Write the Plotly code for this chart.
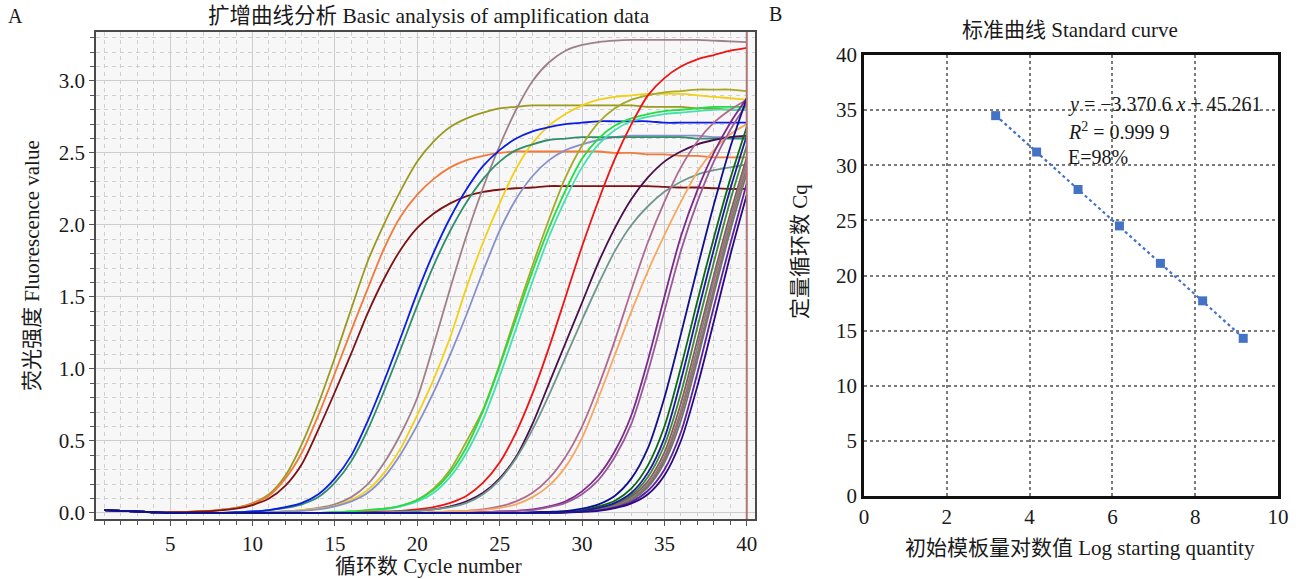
import plotly.graph_objects as go
import numpy as np

# ---------------- data ----------------
cycles = list(range(1, 41))

olive_a = [0.02, 0.015, 0.01, 0.005, 0.005, 0.008, 0.012, 0.022, 0.036, 0.068,
           0.13, 0.26, 0.48, 0.76, 1.08, 1.42, 1.75, 2.01, 2.24, 2.44,
           2.58, 2.68, 2.74, 2.78, 2.81, 2.82, 2.83, 2.83, 2.83, 2.83,
           2.83, 2.83, 2.83, 2.82, 2.82, 2.82, 2.81, 2.81, 2.80, 2.80]
orange_b = [0.02, 0.015, 0.01, 0.005, 0.005, 0.007, 0.012, 0.02, 0.035, 0.065,
            0.12, 0.24, 0.42, 0.68, 0.97, 1.27, 1.56, 1.84, 2.06, 2.21,
            2.32, 2.40, 2.45, 2.48, 2.50, 2.51, 2.51, 2.51, 2.51, 2.51,
            2.51, 2.50, 2.50, 2.49, 2.49, 2.48, 2.48, 2.47, 2.47, 2.47]
maroon_c = [0.02, 0.015, 0.01, 0.005, 0.005, 0.006, 0.01, 0.018, 0.03, 0.055,
            0.10, 0.19, 0.34, 0.58, 0.84, 1.11, 1.39, 1.63, 1.83, 1.98,
            2.08, 2.15, 2.20, 2.23, 2.245, 2.255, 2.26, 2.27, 2.27, 2.27,
            2.27, 2.27, 2.27, 2.27, 2.265, 2.26, 2.26, 2.255, 2.25, 2.25]
blue_d = [0.02, 0.015, 0.01, 0.005, 0.0, 0.0, 0.0, 0.0, 0.005, 0.01,
          0.02, 0.04, 0.07, 0.13, 0.24, 0.40, 0.64, 0.92, 1.22, 1.53,
          1.81, 2.05, 2.25, 2.41, 2.52, 2.60, 2.65, 2.68, 2.70, 2.71,
          2.72, 2.72, 2.72, 2.72, 2.71, 2.71, 2.71, 2.71, 2.71, 2.71]
teal_e = [0.02, 0.015, 0.01, 0.005, 0.0, 0.0, 0.0, 0.0, 0.005, 0.01,
          0.02, 0.035, 0.06, 0.11, 0.21, 0.36, 0.58, 0.85, 1.14, 1.44,
          1.72, 1.96, 2.16, 2.32, 2.44, 2.52, 2.56, 2.59, 2.60, 2.61,
          2.61, 2.61, 2.61, 2.61, 2.61, 2.61, 2.60, 2.60, 2.60, 2.60]
mauve_f = [0.02, 0.015, 0.01, 0.005, 0.0, 0.0, 0.0, 0.0, 0.0, 0.0,
           0.005, 0.01, 0.02, 0.035, 0.06, 0.11, 0.20, 0.35, 0.55, 0.80,
           1.17, 1.56, 1.93, 2.26, 2.55, 2.80, 3.00, 3.13, 3.21, 3.25,
           3.27, 3.28, 3.285, 3.285, 3.285, 3.285, 3.285, 3.28, 3.275, 3.27]
yellow_g = [0.02, 0.015, 0.01, 0.005, 0.0, 0.0, 0.0, 0.0, 0.0, 0.0,
            0.005, 0.01, 0.02, 0.03, 0.05, 0.09, 0.16, 0.28, 0.45, 0.68,
            0.93, 1.22, 1.57, 1.88, 2.15, 2.39, 2.57, 2.69, 2.77, 2.83,
            2.87, 2.89, 2.90, 2.91, 2.91, 2.91, 2.90, 2.89, 2.88, 2.87]
lavender_h = [0.02, 0.015, 0.01, 0.005, 0.0, 0.0, 0.0, 0.0, 0.0, 0.0,
              0.005, 0.01, 0.015, 0.025, 0.045, 0.08, 0.14, 0.25, 0.41, 0.61,
              0.84, 1.10, 1.38, 1.68, 1.96, 2.18, 2.34, 2.45, 2.52, 2.56,
              2.59, 2.61, 2.62, 2.62, 2.62, 2.62, 2.62, 2.61, 2.61, 2.61]
green_i = [0.02, 0.015, 0.01, 0.005, 0.0, 0.0, 0.0, 0.0, 0.0, 0.0,
           0.0, 0.0, 0.0, 0.0, 0.005, 0.01, 0.02, 0.03, 0.05, 0.09,
           0.16, 0.28, 0.46, 0.71, 1.02, 1.35, 1.68, 1.98, 2.24, 2.46,
           2.60, 2.69, 2.74, 2.77, 2.79, 2.80, 2.81, 2.82, 2.82, 2.82]
aqua_i2 = [0.02, 0.015, 0.01, 0.005, 0.0, 0.0, 0.0, 0.0, 0.0, 0.0,
           0.0, 0.0, 0.0, 0.0, 0.005, 0.01, 0.015, 0.025, 0.045, 0.08,
           0.14, 0.25, 0.42, 0.65, 0.95, 1.28, 1.61, 1.92, 2.18, 2.40,
           2.56, 2.66, 2.72, 2.75, 2.77, 2.78, 2.79, 2.80, 2.80, 2.80]
olivey_j = [0.02, 0.015, 0.01, 0.005, 0.0, 0.0, 0.0, 0.0, 0.0, 0.0,
            0.0, 0.0, 0.0, 0.0, 0.005, 0.01, 0.02, 0.03, 0.05, 0.09,
            0.17, 0.30, 0.50, 0.72, 1.03, 1.38, 1.72, 2.04, 2.33, 2.55,
            2.71, 2.81, 2.87, 2.90, 2.92, 2.93, 2.94, 2.94, 2.94, 2.93]
red_k = [0.02, 0.015, 0.01, 0.005, 0.0, 0.0, 0.0, 0.0, 0.0, 0.0,
         0.0, 0.0, 0.0, 0.0, 0.0, 0.0, 0.005, 0.01, 0.015, 0.025,
         0.04, 0.07, 0.12, 0.21, 0.35, 0.56, 0.83, 1.15, 1.50, 1.85,
         2.17, 2.46, 2.70, 2.90, 3.02, 3.10, 3.15, 3.18, 3.21, 3.23]
purple_l = [0.02, 0.015, 0.01, 0.005, 0.0, 0.0, 0.0, 0.0, 0.0, 0.0,
            0.0, 0.0, 0.0, 0.0, 0.0, 0.0, 0.0, 0.005, 0.01, 0.015,
            0.025, 0.045, 0.08, 0.14, 0.24, 0.39, 0.62, 0.90, 1.18, 1.46,
            1.74, 1.98, 2.18, 2.33, 2.44, 2.51, 2.56, 2.59, 2.61, 2.62]
grayteal_m = [0.02, 0.015, 0.01, 0.005, 0.0, 0.0, 0.0, 0.0, 0.0, 0.0,
              0.0, 0.0, 0.0, 0.0, 0.0, 0.0, 0.0, 0.005, 0.01, 0.015,
              0.025, 0.04, 0.07, 0.13, 0.23, 0.38, 0.58, 0.82, 1.08, 1.34,
              1.59, 1.82, 2.00, 2.13, 2.23, 2.30, 2.35, 2.38, 2.40, 2.42]
rosy_n = [0.02, 0.015, 0.01, 0.005, 0.0, 0.0, 0.0, 0.0, 0.0, 0.0,
          0.0, 0.0, 0.0, 0.0, 0.0, 0.0, 0.0, 0.0, 0.0, 0.0,
          0.005, 0.01, 0.015, 0.025, 0.045, 0.08, 0.14, 0.24, 0.39, 0.60,
          0.88, 1.20, 1.55, 1.88, 2.16, 2.40, 2.58, 2.71, 2.80, 2.87]
sandy_o = [0.02, 0.015, 0.01, 0.005, 0.0, 0.0, 0.0, 0.0, 0.0, 0.0,
           0.0, 0.0, 0.0, 0.0, 0.0, 0.0, 0.0, 0.0, 0.0, 0.0,
           0.005, 0.01, 0.015, 0.02, 0.035, 0.06, 0.11, 0.19, 0.32, 0.52,
           0.80, 1.10, 1.40, 1.68, 1.93, 2.16, 2.37, 2.52, 2.63, 2.70]
purple_p = [0.02, 0.015, 0.01, 0.005, 0.0, 0.0, 0.0, 0.0, 0.0, 0.0,
            0.0, 0.0, 0.0, 0.0, 0.0, 0.0, 0.0, 0.0, 0.0, 0.0,
            0.0, 0.0, 0.0, 0.005, 0.01, 0.015, 0.025, 0.045, 0.08, 0.15,
            0.26, 0.43, 0.68, 1.06, 1.50, 1.92, 2.24, 2.50, 2.71, 2.88]
orchid_p2 = [0.02, 0.015, 0.01, 0.005, 0.0, 0.0, 0.0, 0.0, 0.0, 0.0,
             0.0, 0.0, 0.0, 0.0, 0.0, 0.0, 0.0, 0.0, 0.0, 0.0,
             0.0, 0.0, 0.0, 0.005, 0.01, 0.015, 0.02, 0.04, 0.07, 0.13,
             0.23, 0.39, 0.62, 0.98, 1.40, 1.82, 2.16, 2.44, 2.66, 2.84]
late_1 = [0.02, 0.015, 0.01, 0.005, 0.0, 0.0, 0.0, 0.0, 0.0, 0.0,
          0.0, 0.0, 0.0, 0.0, 0.0, 0.0, 0.0, 0.0, 0.0, 0.0,
          0.0, 0.0, 0.0, 0.0, 0.0, 0.0, 0.005, 0.008, 0.013, 0.03,
          0.06, 0.12, 0.24, 0.45, 0.80, 1.24, 1.70, 2.14, 2.54, 2.88]
late_2 = [0.02, 0.015, 0.01, 0.005, 0.0, 0.0, 0.0, 0.0, 0.0, 0.0,
          0.0, 0.0, 0.0, 0.0, 0.0, 0.0, 0.0, 0.0, 0.0, 0.0,
          0.0, 0.0, 0.0, 0.0, 0.0, 0.0, 0.0, 0.005, 0.013, 0.02,
          0.045, 0.085, 0.17, 0.33, 0.60, 1.01, 1.47, 1.91, 2.32, 2.68]
late_3 = [0.02, 0.015, 0.01, 0.005, 0.0, 0.0, 0.0, 0.0, 0.0, 0.0,
          0.0, 0.0, 0.0, 0.0, 0.0, 0.0, 0.0, 0.0, 0.0, 0.0,
          0.0, 0.0, 0.0, 0.0, 0.0, 0.0, 0.0, 0.0, 0.005, 0.014,
          0.03, 0.063, 0.125, 0.25, 0.47, 0.83, 1.29, 1.74, 2.17, 2.55]
late_4 = [0.02, 0.015, 0.01, 0.005, 0.0, 0.0, 0.0, 0.0, 0.0, 0.0,
          0.0, 0.0, 0.0, 0.0, 0.0, 0.0, 0.0, 0.0, 0.0, 0.0,
          0.0, 0.0, 0.0, 0.0, 0.0, 0.0, 0.0, 0.0, 0.005, 0.012,
          0.027, 0.056, 0.112, 0.22, 0.42, 0.76, 1.20, 1.65, 2.08, 2.47]
late_5 = [0.02, 0.015, 0.01, 0.005, 0.0, 0.0, 0.0, 0.0, 0.0, 0.0,
          0.0, 0.0, 0.0, 0.0, 0.0, 0.0, 0.0, 0.0, 0.0, 0.0,
          0.0, 0.0, 0.0, 0.0, 0.0, 0.0, 0.0, 0.0, 0.005, 0.012,
          0.025, 0.05, 0.10, 0.20, 0.39, 0.71, 1.15, 1.61, 2.04, 2.44]
late_6 = [0.02, 0.015, 0.01, 0.005, 0.0, 0.0, 0.0, 0.0, 0.0, 0.0,
          0.0, 0.0, 0.0, 0.0, 0.0, 0.0, 0.0, 0.0, 0.0, 0.0,
          0.0, 0.0, 0.0, 0.0, 0.0, 0.0, 0.0, 0.0, 0.005, 0.011,
          0.023, 0.047, 0.093, 0.19, 0.37, 0.68, 1.10, 1.56, 2.00, 2.40]
late_7 = [0.02, 0.015, 0.01, 0.005, 0.0, 0.0, 0.0, 0.0, 0.0, 0.0,
          0.0, 0.0, 0.0, 0.0, 0.0, 0.0, 0.0, 0.0, 0.0, 0.0,
          0.0, 0.0, 0.0, 0.0, 0.0, 0.0, 0.0, 0.0, 0.005, 0.01,
          0.022, 0.045, 0.09, 0.18, 0.35, 0.64, 1.06, 1.52, 1.96, 2.36]
late_8 = [0.02, 0.015, 0.01, 0.005, 0.0, 0.0, 0.0, 0.0, 0.0, 0.0,
          0.0, 0.0, 0.0, 0.0, 0.0, 0.0, 0.0, 0.0, 0.0, 0.0,
          0.0, 0.0, 0.0, 0.0, 0.0, 0.0, 0.0, 0.0, 0.004, 0.009,
          0.018, 0.038, 0.077, 0.154, 0.30, 0.56, 0.97, 1.43, 1.87, 2.29]
late_9 = [0.02, 0.015, 0.01, 0.005, 0.0, 0.0, 0.0, 0.0, 0.0, 0.0,
          0.0, 0.0, 0.0, 0.0, 0.0, 0.0, 0.0, 0.0, 0.0, 0.0,
          0.0, 0.0, 0.0, 0.0, 0.0, 0.0, 0.0, 0.0, 0.004, 0.008,
          0.015, 0.033, 0.066, 0.13, 0.26, 0.50, 0.88, 1.33, 1.79, 2.21]
late_10 = [0.02, 0.015, 0.01, 0.005, 0.0, 0.0, 0.0, 0.0, 0.0, 0.0,
           0.0, 0.0, 0.0, 0.0, 0.0, 0.0, 0.0, 0.0, 0.0, 0.0,
           0.0, 0.0, 0.0, 0.0, 0.0, 0.0, 0.0, 0.0, 0.006, 0.015,
           0.035, 0.07, 0.14, 0.28, 0.52, 0.92, 1.38, 1.83, 2.25, 2.62]

cursor_cycle = 40

# standard curve
log_quantity = [3.18, 4.17, 5.17, 6.17, 7.16, 8.18, 9.16]
cq_values = [34.5, 31.2, 27.8, 24.5, 21.1, 17.7, 14.3]

left_xticks = [5, 10, 15, 20, 25, 30, 35, 40]
left_yticks = [0.0, 0.5, 1.0, 1.5, 2.0, 2.5, 3.0]
right_xticks = [0, 2, 4, 6, 8, 10]
right_yticks = [0, 5, 10, 15, 20, 25, 30, 35, 40]

# ---------------- styles ----------------
series = [
    (olive_a, "#9a9a1e"), (orange_b, "#f27a3a"), (maroon_c, "#7e1212"),
    (mauve_f, "#9e8088"), (yellow_g, "#f2d01a"), (lavender_h, "#8890cc"),
    (teal_e, "#2f8f6c"), (blue_d, "#0b1de0"),
    (olivey_j, "#a8a826"), (aqua_i2, "#46e0b0"), (green_i, "#22dd44"),
    (red_k, "#ee1414"), (purple_l, "#4a0f4a"), (grayteal_m, "#6f978e"),
    (rosy_n, "#b06a90"), (sandy_o, "#f6a862"),
    (purple_p, "#7a2a8a"), (orchid_p2, "#9a5a9a"),
    (late_2, "#0a6a14"), (late_3, "#3a8a3a"), (late_4, "#8a5a5a"),
    (late_5, "#808080"), (late_6, "#a06a6a"), (late_7, "#6a7a6a"),
    (late_8, "#6020a0"), (late_9, "#2a0a80"), (late_10, "#1a1a9a"),
    (late_1, "#10108a"),
]

W, H = 1308, 579
FONT = "Liberation Serif, 'Noto Sans CJK SC', serif"
TXT = "#1a1a1a"


def fx(p):
    return p / W


def fy(p):
    return 1 - p / H


fig = go.Figure()

for vals, col in series:
    fig.add_trace(go.Scatter(
        x=cycles, y=vals, mode="lines", xaxis="x", yaxis="y",
        line=dict(color=col, width=1.8, shape="spline", smoothing=0.8),
        hoverinfo="skip"))

# standard curve: fitted trend line + points
slope, intercept = np.polyfit(log_quantity, cq_values, 1)
trend_x = [min(log_quantity), max(log_quantity)]
trend_y = [slope * v + intercept for v in trend_x]
fig.add_trace(go.Scatter(
    x=trend_x, y=trend_y, mode="lines", xaxis="x2", yaxis="y2",
    line=dict(color="#4472c4", width=2.2, dash="dot"), hoverinfo="skip"))
fig.add_trace(go.Scatter(
    x=log_quantity, y=cq_values, mode="markers", xaxis="x2", yaxis="y2",
    marker=dict(symbol="square", size=9, color="#4472c4"), hoverinfo="skip"))

fig.update_layout(
    width=W, height=H, margin=dict(l=0, r=0, t=0, b=0, autoexpand=False),
    paper_bgcolor="white", plot_bgcolor="#f7f7f7", showlegend=False,
    font=dict(family=FONT, size=20, color=TXT),
    xaxis=dict(
        domain=[fx(96), fx(755)], range=[0.5, 40.5], tickvals=left_xticks,
        showgrid=True, gridcolor="#cdcdcd", gridwidth=1, zeroline=False,
        ticks="outside", ticklen=5, tickcolor="#555", tickwidth=1,
        minor=dict(dtick=1, tick0=0, showgrid=True, gridcolor="#d0d0d0",
                   griddash="4px,4px", ticks="outside", ticklen=4, tickcolor="#555"),
        showline=True, mirror=True, linecolor="#4a4a4a", linewidth=1.5,
        tickfont=dict(size=21), anchor="y", automargin=False),
    yaxis=dict(
        domain=[fy(519), fy(32)], range=[-0.042, 3.34], tickvals=left_yticks,
        tickformat=".1f",
        showgrid=True, gridcolor="#cdcdcd", gridwidth=1, zeroline=False,
        ticks="outside", ticklen=5, tickcolor="#555", tickwidth=1,
        minor=dict(dtick=0.1, tick0=0, showgrid=True, gridcolor="#d0d0d0",
                   griddash="4px,4px", ticks="outside", ticklen=4, tickcolor="#555"),
        showline=True, mirror=True, linecolor="#4a4a4a", linewidth=1.5,
        tickfont=dict(size=21), anchor="x", automargin=False),
    xaxis2=dict(
        domain=[fx(864), fx(1278)], range=[0, 10], tickvals=right_xticks,
        showgrid=True, gridcolor="#7a7a7a", griddash="dot", gridwidth=1.5,
        zeroline=False, ticks="", showline=True, mirror=True,
        linecolor="#111", linewidth=2.5, tickfont=dict(size=21), anchor="y2",
        automargin=False),
    yaxis2=dict(
        domain=[fy(496), fy(55)], range=[0, 40], tickvals=right_yticks,
        showgrid=True, gridcolor="#7a7a7a", griddash="dot", gridwidth=1.5,
        zeroline=False, ticks="", showline=True, mirror=True,
        linecolor="#111", linewidth=2.5, tickfont=dict(size=21), anchor="x2",
        automargin=False),
)

# white background for right plot area
fig.add_shape(type="rect", xref="x2 domain", yref="y2 domain", x0=0, x1=1, y0=0, y1=1,
              fillcolor="white", line=dict(width=0), layer="below")

# cursor line at the last cycle
fig.add_shape(type="line", xref="x", yref="y domain", x0=cursor_cycle, x1=cursor_cycle,
              y0=0, y1=1, line=dict(color="#b07676", width=2))


def ann(text, x, y, size=21, xanchor="center", yanchor="middle", angle=0):
    fig.add_annotation(text=text, x=fx(x), y=fy(y), xref="paper", yref="paper",
                       showarrow=False, xanchor=xanchor, yanchor=yanchor,
                       textangle=angle, font=dict(family=FONT, size=size, color=TXT))


ann("A", 6, 16, size=20, xanchor="left")
ann("B", 767, 14, size=20, xanchor="left")
ann("扩增曲线分析 Basic analysis of amplification data", 429, 16, size=21.5)
ann("标准曲线 Standard curve", 1070, 30, size=21)
ann("荧光强度 Fluorescence value", 32, 266, size=21, angle=-90)
ann("循环数 Cycle number", 428, 566, size=21)
ann("定量循环数 Cq", 800, 252, size=21, angle=-90)
ann("初始模板量对数值 Log starting quantity", 1080, 548, size=21)
ann("<i>y</i> = −3.370 6 <i>x</i> + 45.261", 1066, 105, size=20, xanchor="left")
ann("<i>R</i><sup>2</sup> = 0.999 9", 1066, 131, size=20, xanchor="left")
ann("E=98%", 1066, 157, size=20, xanchor="left")

fig.write_html(
    "out.html",
    config={"displayModeBar": False},
    post_script="document.body.style.margin='0';document.body.style.overflow='hidden';",
)
